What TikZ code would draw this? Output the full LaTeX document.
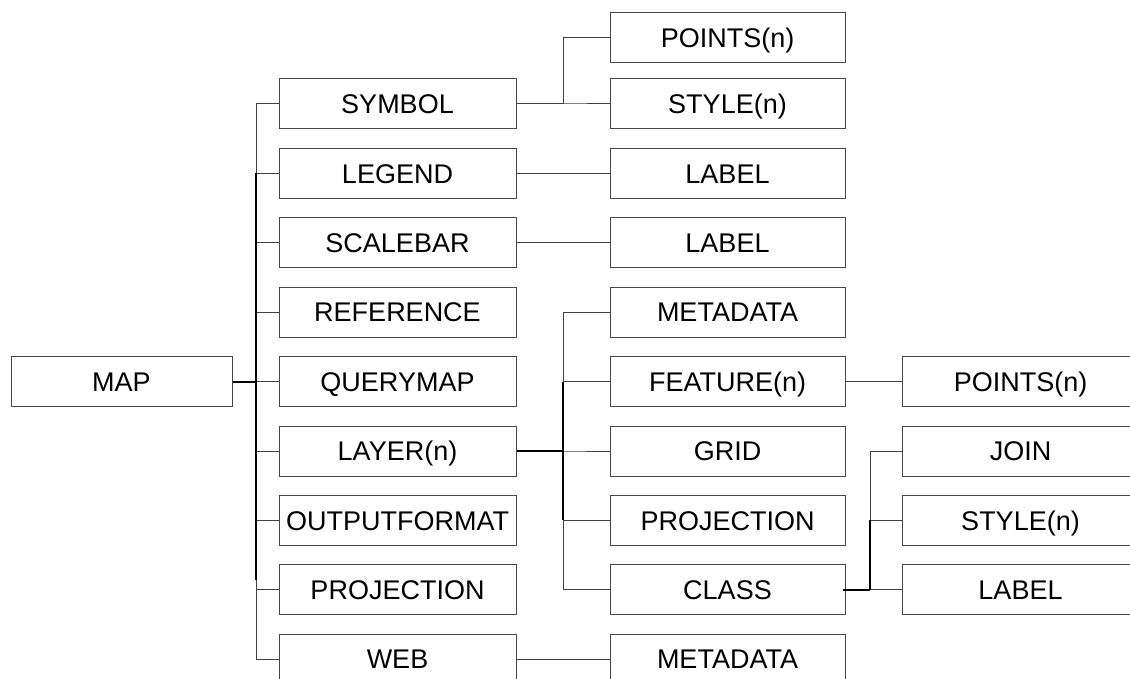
\documentclass[tikz,border=0pt]{standalone}
\usepackage{fontspec}
\setmainfont{Liberation Sans}
\begin{document}
\begin{tikzpicture}[x=1pt,y=-1pt,
  box/.style={draw=black!72, line width=1pt, inner sep=0pt,
    minimum height=50pt, text height=19.3pt, text depth=0pt,
    font=\fontsize{27}{30}\selectfont},
  wmap/.style={box, minimum width=221pt},
  wcol/.style={box, minimum width=237pt},
  wsub/.style={box, minimum width=235pt},
  link/.style={draw=black!75, line width=1pt},
  heavy/.style={draw=black, line width=2pt}]
\useasboundingbox (0,0) rectangle (1130,679);

% root
\node[wmap] (map) at (121.5,381.6) {MAP};

% first level
\node[wcol] (sym) at (397.5,104)   {SYMBOL};
\node[wcol] (leg) at (397.5,173.4) {LEGEND};
\node[wcol] (scb) at (397.5,242.8) {SCALEBAR};
\node[wcol] (ref) at (397.5,312.2) {REFERENCE};
\node[wcol] (qry) at (397.5,381.6) {QUERYMAP};
\node[wcol] (lay) at (397.5,451)   {LAYER(n)};
\node[wcol] (out) at (397.5,520.4) {OUTPUTFORMAT};
\node[wcol] (prj) at (397.5,589.8) {PROJECTION};
\node[wcol] (web) at (397.5,659.2) {WEB};

% second level
\node[wsub] (pts1)  at (727.5,38)    {POINTS(n)};
\node[wsub] (sty1)  at (727.5,104)   {STYLE(n)};
\node[wsub] (lab1)  at (727.5,173.4) {LABEL};
\node[wsub] (lab2)  at (727.5,242.8) {LABEL};
\node[wsub] (meta1) at (727.5,312.2) {METADATA};
\node[wsub] (feat)  at (727.5,381.6) {FEATURE(n)};
\node[wsub] (grid)  at (727.5,451)   {GRID};
\node[wsub] (prj2)  at (727.5,520.4) {PROJECTION};
\node[wsub] (cls)   at (727.5,589.8) {CLASS};
\node[wsub] (meta2) at (727.5,659.2) {METADATA};

% third level
\node[wcol] (pts2) at (1020.5,381.6) {POINTS(n)};
\node[wcol] (join) at (1020.5,451)   {JOIN};
\node[wcol] (sty2) at (1020.5,520.4) {STYLE(n)};
\node[wcol] (lab3) at (1020.5,589.8) {LABEL};

% branch columns
\coordinate (tA) at (256,0);
\coordinate (tB) at (563,0);
\coordinate (tC) at (870,0);
\coordinate (tAend) at (256,580);

% elbow connectors
\foreach \c in {sym,leg,scb,ref,qry,lay,out,prj,web}
  \draw[link] (map.east) -- (map.east -| tA) |- (\c.west);
\foreach \c in {pts1,sty1}
  \draw[link] (sym.east) -- (sym.east -| tB) |- (\c.west);
\foreach \c in {meta1,feat,grid,prj2,cls}
  \draw[link] (lay.east) -- (lay.east -| tB) |- (\c.west);
\foreach \c in {join,sty2,lab3}
  \draw[link] (cls.east) -- (cls.east -| tC) |- (\c.west);

% straight connectors
\draw[link] (leg.east) -- (lab1.west);
\draw[link] (scb.east) -- (lab2.west);
\draw[link] (web.east) -- (meta2.west);
\draw[link] (feat.east) -- (pts2.west);

% heavier shared trunk segments
\draw[heavy] (map.east) -- (map.east -| tA);
\draw[heavy] (leg.west -| tA) -- (tAend);
\draw[heavy] (lay.east) -- (lay.east -| tB);
\draw[heavy] (feat.west -| tB) -- (prj2.west -| tB);
\draw[heavy] ([xshift=-3pt]cls.east) -- (cls.east -| tC);
\draw[heavy] (sty2.west -| tC) -- (lab3.west -| tC);
\end{tikzpicture}
\end{document}
